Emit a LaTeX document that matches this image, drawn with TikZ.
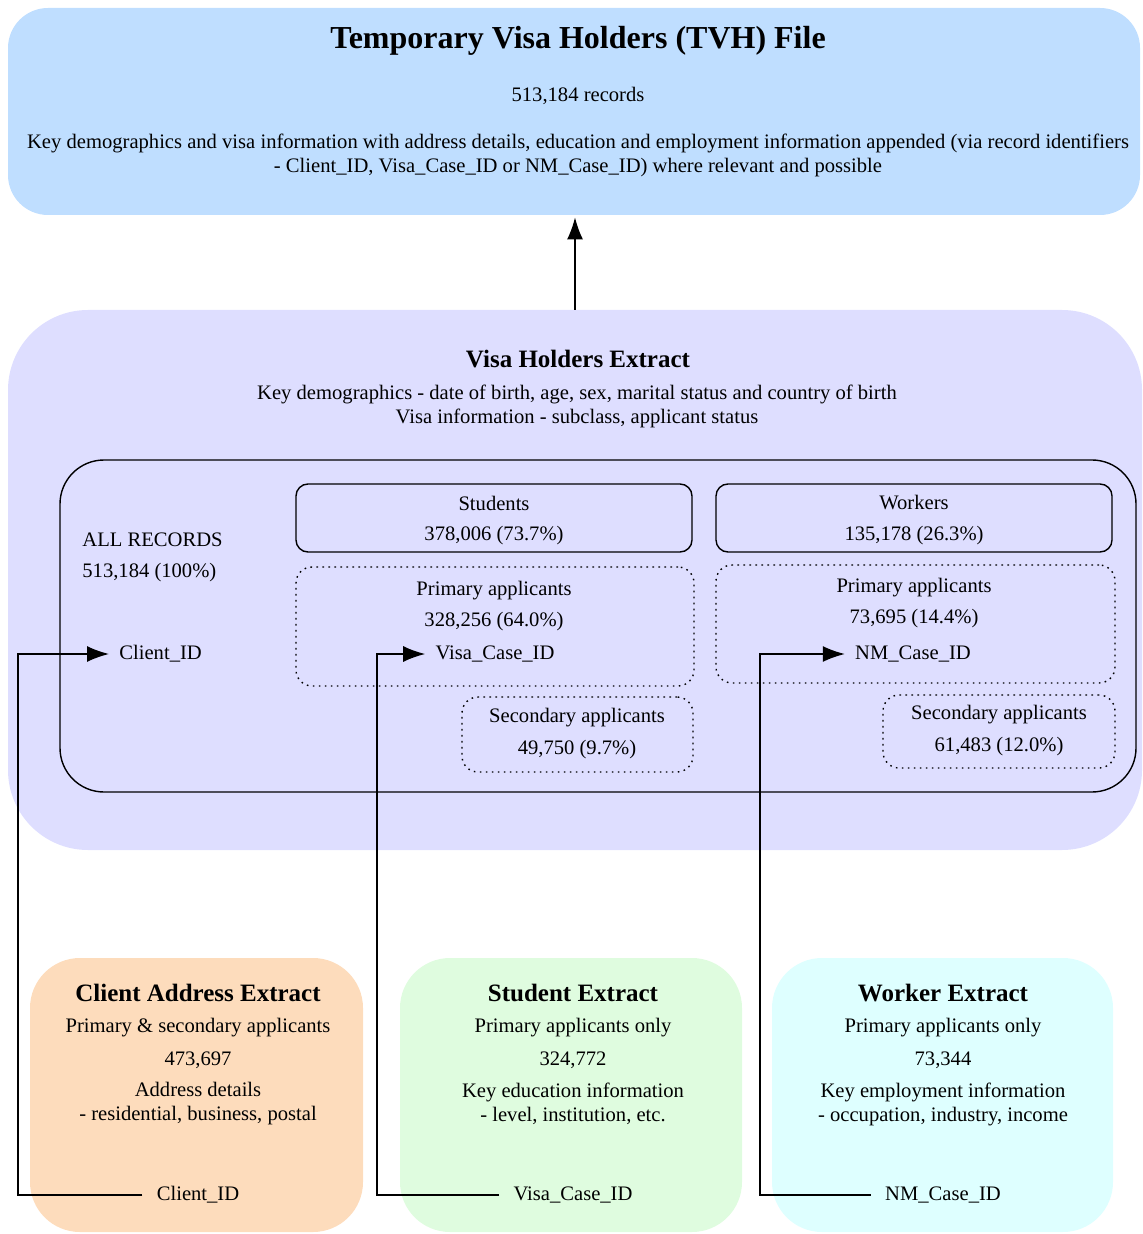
\documentclass[tikz,border=0pt]{standalone}
\usepackage{fontspec}
\setmainfont{Liberation Serif}
\usetikzlibrary{arrows.meta,fit}

\definecolor{tvhblue}{RGB}{191,222,255}
\definecolor{vhlav}{RGB}{222,222,255}
\definecolor{addrpeach}{RGB}{253,220,188}
\definecolor{studgreen}{RGB}{223,252,223}
\definecolor{workcyan}{RGB}{222,255,255}

\tikzset{
  panel/.style={inner sep=0pt, rounded corners=#1},
  panel/.default=20pt,
  catbox/.style={draw, line width=0.7pt, rounded corners=6pt, inner sep=0pt},
  subbox/.style={draw, line width=0.7pt, dash pattern=on 0.8pt off 2.2pt, rounded corners=8pt, inner sep=0pt},
  txt/.style={font=\fontsize{10.3}{12}\selectfont, inner sep=1pt, align=center},
  idtxt/.style={txt, inner sep=4pt},
  head/.style={font=\fontsize{12.5}{15}\selectfont\bfseries, inner sep=1pt},
  link/.style={-{Latex[length=11pt,width=8pt]}, line width=0.7pt, shorten <=3pt, shorten >=1pt},
}

\begin{document}
\begin{tikzpicture}[x=0.5pt,y=-0.5pt]
  \useasboundingbox (0,0) rectangle (1143,1234);

  % the panels
  \node[panel, fill=tvhblue, fit={(8,8) (1140,215)}] (tvh) {};
  \node[panel=40pt, fill=vhlav, fit={(8,310) (1142,850)}] (vhe) {};
  \node[panel=25pt, fill=addrpeach, fit={(30,958) (363,1232)}] (addr) {};
  \node[panel=25pt, fill=studgreen, fit={(400,958) (742,1232)}] (stud) {};
  \node[panel=25pt, fill=workcyan, fit={(772,958) (1113,1232)}] (work) {};

  % the record groups
  \node[draw, line width=0.7pt, rounded corners=22pt, inner sep=0pt, fit={(60,460) (1136,792)}] (recs) {};
  \node[catbox, fit={(296,484) (692,552)}] (studBox) {};
  \node[catbox, fit={(716,484) (1112,552)}] (workBox) {};
  \node[subbox, fit={(296,567) (694,686)}] (studPri) {};
  \node[subbox, fit={(462,697) (693,772)}] (studSec) {};
  \node[subbox, fit={(716,565) (1115,683)}] (workPri) {};
  \node[subbox, fit={(883,695) (1115,768)}] (workSec) {};

  % top file
  \node[font=\fontsize{16}{19}\selectfont\bfseries] (tvhTitle) at (578,41) {Temporary Visa Holders (TVH) File};
  \node[txt] (tvhCount) at (578,96) {513,184 records};
  \node[txt] (tvhDesc) at (578,155) {Key demographics and visa information with address details, education and employment information appended (via record identifiers\\- Client\_ID, Visa\_Case\_ID or NM\_Case\_ID) where relevant and possible};

  % visa holders extract
  \node[head] (vheTitle) at (578,359) {Visa Holders Extract};
  \node[txt] (vheDesc) at (577,406) {Key demographics - date of birth, age, sex, marital status and country of birth\\Visa information - subclass, applicant status};

  \node[txt, anchor=west] (allRec) at (80,540) {ALL RECORDS};
  \node[txt, anchor=west] (allCount) at (80,573) {513,184 (100\%)};
  \node[idtxt, anchor=west] (cidTop) at (111,654) {Client\_ID};

  \node[txt] (studHead) at (494,503) {Students};
  \node[txt] (studCount) at (494,536) {378,006 (73.7\%)};
  \node[txt] (workHead) at (914,503) {Workers};
  \node[txt] (workCount) at (914,536) {135,178 (26.3\%)};

  \node[txt] (studPriHead) at (494,591) {Primary applicants};
  \node[txt] (studPriCount) at (494,622) {328,256 (64.0\%)};
  \node[idtxt] (visaTop) at (495,654) {Visa\_Case\_ID};
  \node[txt] (studSecHead) at (577,718) {Secondary applicants};
  \node[txt] (studSecCount) at (577,750) {49,750 (9.7\%)};

  \node[txt] (workPriHead) at (914,588) {Primary applicants};
  \node[txt] (workPriCount) at (914,619) {73,695 (14.4\%)};
  \node[idtxt] (nmTop) at (913,654) {NM\_Case\_ID};
  \node[txt] (workSecHead) at (999,715) {Secondary applicants};
  \node[txt] (workSecCount) at (999,747) {61,483 (12.0\%)};

  % client address extract
  \node[head] (addrTitle) at (198,993) {Client Address Extract};
  \node[txt] (addrWho) at (198,1028) {Primary \& secondary applicants};
  \node[txt] (addrCount) at (198,1060) {473,697};
  \node[txt] (addrDesc) at (198,1104) {Address details\\- residential, business, postal};
  \node[idtxt] (cidBot) at (198,1195) {Client\_ID};

  % student extract
  \node[head] (studTitle) at (573,993) {Student Extract};
  \node[txt] (studWho) at (573,1028) {Primary applicants only};
  \node[txt] (studTotal) at (573,1060) {324,772};
  \node[txt] (studDesc) at (573,1104) {Key education information\\- level, institution, etc.};
  \node[idtxt] (visaBot) at (573,1195) {Visa\_Case\_ID};

  % worker extract
  \node[head] (workTitle) at (943,993) {Worker Extract};
  \node[txt] (workWho) at (943,1028) {Primary applicants only};
  \node[txt] (workTotal) at (943,1060) {73,344};
  \node[txt] (workDesc) at (943,1104) {Key employment information\\- occupation, industry, income};
  \node[idtxt] (nmBot) at (943,1195) {NM\_Case\_ID};

  % connectors
  \draw[link, shorten <=0pt] (vhe.north) -- (vhe.north |- tvh.south);

  \coordinate (cidBend) at (18,1194);
  \coordinate (visaBend) at (377,1194);
  \coordinate (nmBend) at (760,1194);
  \draw[link] (cidBot.west) -- (cidBot.west -| cidBend) |- (cidTop.west);
  \draw[link] (visaBot.west) -- (visaBot.west -| visaBend) |- (visaTop.west);
  \draw[link] (nmBot.west) -- (nmBot.west -| nmBend) |- (nmTop.west);
\end{tikzpicture}
\end{document}
